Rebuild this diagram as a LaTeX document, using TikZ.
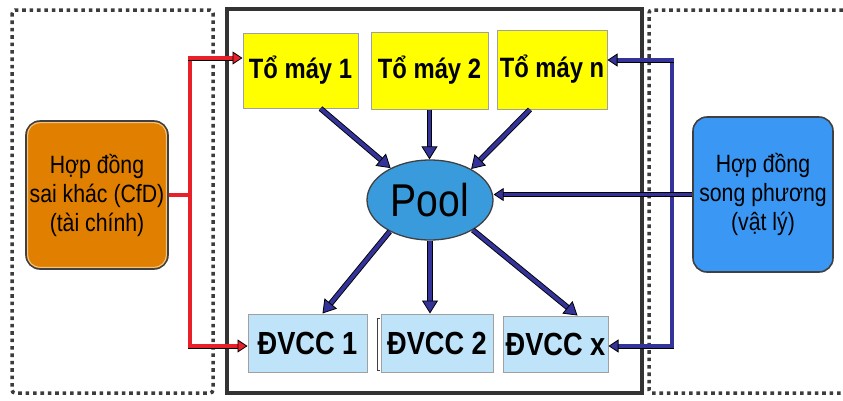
\documentclass[tikz,border=0pt]{standalone}
\usepackage{fontspec}
\newfontfamily\arialn[FakeStretch=0.85]{Liberation Sans}
\usetikzlibrary{arrows.meta,shapes.geometric,calc}
\definecolor{navyc}{HTML}{333399}
\definecolor{redc}{HTML}{E8202A}
\definecolor{framec}{HTML}{333333}
\definecolor{dotc}{HTML}{3C3C3C}
\definecolor{boxgray}{HTML}{A0A0A0}
\definecolor{yel}{HTML}{FFFF00}
\definecolor{lblue}{HTML}{BFE3F9}
\definecolor{poolc}{HTML}{3A9BDC}
\definecolor{orangec}{HTML}{E17F00}
\definecolor{tanc}{HTML}{F2C27E}
\definecolor{bluec}{HTML}{3A98F4}
\definecolor{darkc}{HTML}{404040}
\begin{document}
\begin{tikzpicture}[x=1pt,y=-1pt,
  dotbox/.style={draw=dotc, line width=3.5pt, dash pattern=on 3.6pt off 3.8pt},
  frame/.style={draw=framec, line width=3.5pt},
  gen/.style={rectangle, fill=yel, draw=boxgray, line width=1pt, inner sep=0pt,
    font=\arialn\bfseries\fontsize{28}{32}\selectfont},
  dvcc/.style={rectangle, fill=lblue, draw=boxgray, line width=1pt, inner sep=0pt,
    font=\arialn\bfseries\fontsize{32}{36}\selectfont},
  contract/.style={rectangle, rounded corners=14pt, draw=darkc, line width=1.6pt, inner sep=0pt,
    align=center, font=\arialn\fontsize{25}{29}\selectfont},
  flowout/.style={draw=black, line width=5.6pt, shorten >=8pt},
  flowin/.style={draw=navyc, line width=3.8pt,
    -{Triangle[length=13pt,width=16pt,fill=navyc,color=black,line width=0.8pt]}},
  redline/.style={draw=redc, line width=3.2pt},
  redout/.style={draw=black, line width=5pt, shorten >=6pt},
  redin/.style={draw=redc, line width=3.2pt,
    -{Triangle[length=10pt,width=13pt,fill=redc,color=black,line width=0.8pt]}},
  navline/.style={draw=navyc, line width=3.2pt},
  navout/.style={draw=black, line width=5pt, shorten >=6pt},
  navin/.style={draw=navyc, line width=3.2pt,
    -{Triangle[length=10pt,width=13pt,fill=navyc,color=black,line width=0.8pt]}}
]
\useasboundingbox (0,0) rectangle (843,400);

% dotted boxes
\draw[dotbox, rounded corners=3pt] (12,10) rectangle (213,393);
\draw[dotbox, rounded corners=3pt] (843,10) -- (649,10) -- (649,393) -- (843,393);

% main frame
\draw[frame] (227,9) rectangle (642,393);

% generators
\node[gen, minimum width=115pt, minimum height=75pt] (t1) at (300.5,70.5) {Tổ máy 1};
\node[gen, minimum width=117pt, minimum height=77pt] (t2) at (429.5,70.5) {Tổ máy 2};
\node[gen, minimum width=110pt, minimum height=79pt] (tn) at (552,69.5) {Tổ máy n};

% pool
\node[ellipse, fill=poolc, draw=darkc, line width=1.3pt, minimum width=126pt, minimum height=80pt,
  inner sep=0pt, font=\arialn\fontsize{46}{50}\selectfont] (pool) at (430,200) {Pool};

% retailers
\node[dvcc, minimum width=119pt, minimum height=58pt] (d1) at (307.5,343) {ĐVCC 1};
\node[dvcc, minimum width=112pt, minimum height=58pt] (d2) at (437,343) {ĐVCC 2};
\node[dvcc, minimum width=105pt, minimum height=56pt] (dx) at (555.5,344) {ĐVCC x};
\draw[darkc, line width=0.8pt] (380,318) -- (377,318) -- (377,370) -- (380,370);

% contracts
\node[contract, fill=orangec, minimum width=142pt, minimum height=148pt] (or) at (97,195)
  {Hợp đồng\\sai khác (CfD)\\(tài chính)};
\draw[tanc, line width=1pt, rounded corners=12pt]
  ([shift={(2.5,2.5)}]or.north west) rectangle ([shift={(-2.5,-2.5)}]or.south east);
\node[contract, fill=bluec, minimum width=140pt, minimum height=155pt] (bl) at (763,194.5)
  {Hợp đồng\\song phương\\(vật lý)};

% flows generators -> pool
\draw[flowout] ([xshift=20pt]t1.south) -- (pool.141);
\draw[flowin]  ([xshift=20pt]t1.south) -- (pool.141);
\draw[flowout] (t2.south) -- (t2.south |- pool.north);
\draw[flowin]  (t2.south) -- (t2.south |- pool.north);
\draw[flowout] ([xshift=-22pt]tn.south) -- (pool.37);
\draw[flowin]  ([xshift=-22pt]tn.south) -- (pool.37);

% flows pool -> retailers
\draw[flowout] (pool.218) -- ([xshift=15pt]d1.north);
\draw[flowin]  (pool.218) -- ([xshift=15pt]d1.north);
\draw[flowout] (pool.south) -- (pool.south |- d2.north);
\draw[flowin]  (pool.south) -- (pool.south |- d2.north);
\draw[flowout] (pool.-35) -- ([xshift=22pt]dx.north);
\draw[flowin]  (pool.-35) -- ([xshift=22pt]dx.north);

% red connector (CfD)
\coordinate (rt) at (190,58);
\coordinate (rb) at (190,346);
\draw[redline] (or.east) -- (or.east -| rt);
\draw[redline] (rt) -- (rb);
\draw[redout] ([xshift=-1.6pt]rt) -- (rt -| t1.west);
\draw[redin]  ([xshift=-1.6pt]rt) -- (rt -| t1.west);
\draw[redout] ([xshift=-1.6pt]rb) -- (rb -| d1.west);
\draw[redin]  ([xshift=-1.6pt]rb) -- (rb -| d1.west);

% navy connector (bilateral)
\coordinate (bt) at (672,60);
\coordinate (bb) at (672,346);
\draw[navline] (bt) -- (bb);
\draw[navout] (bl.west) -- (bl.west -| pool.east);
\draw[navin]  (bl.west) -- (bl.west -| pool.east);
\draw[navout] ([xshift=1.6pt]bt) -- (bt -| tn.east);
\draw[navin]  ([xshift=1.6pt]bt) -- (bt -| tn.east);
\draw[navout] ([xshift=1.6pt]bb) -- (bb -| dx.east);
\draw[navin]  ([xshift=1.6pt]bb) -- (bb -| dx.east);
\end{tikzpicture}
\end{document}
